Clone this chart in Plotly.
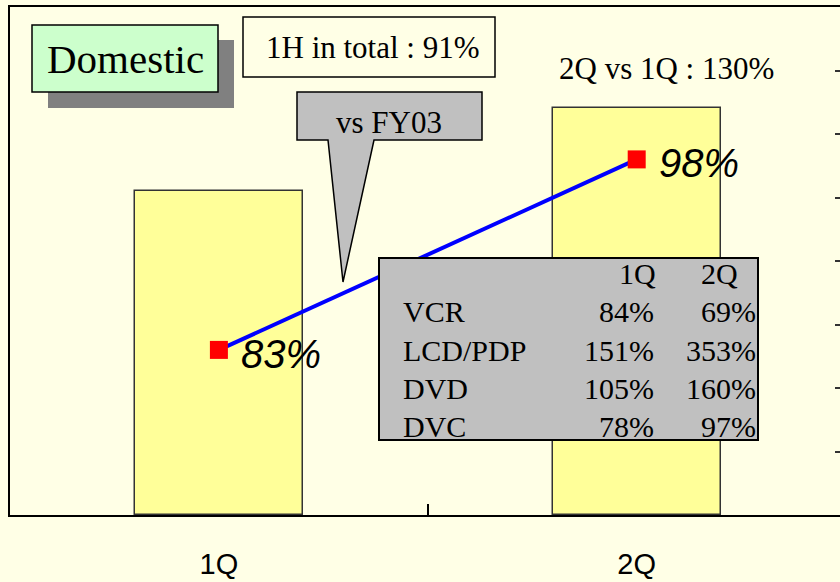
import plotly.graph_objects as go

# ---- data -------------------------------------------------------------
quarters = ["1Q", "2Q"]
sales_index = [63.8, 80.1]          # bar heights (hidden left axis, 0-100)
ratio_vs_fy03 = [83, 98]            # % vs FY03 (right axis, 70-110)

products = ["VCR", "LCD/PDP", "DVD", "DVC"]
product_q1 = ["84%", "151%", "105%", "78%"]
product_q2 = ["69%", "353%", "160%", "97%"]

title_text = "Domestic"
total_text = "1H in total : 91%"
callout_text = "vs FY03"
qoq_text = "2Q vs 1Q : 130%"

# ---- layout geometry (pixels) -------------------------------------------
W, H = 840, 582
ML, MR, MT, MB = 10, 0, 7, 67
PW, PH = W - ML - MR, H - MT - MB

BG = "#FFFFE6"
SERIF = "Liberation Serif, Times New Roman, serif"
SANS = "Liberation Sans, Arial, sans-serif"


def fx(px):
    return (px - ML) / PW


def fy(py):
    return 1 - (py - MT) / PH


fig = go.Figure()

fig.add_trace(go.Bar(
    x=quarters, y=sales_index, width=0.402,
    marker=dict(color="#FFFF99", line=dict(color="#333333", width=1.5)),
    yaxis="y", showlegend=False, hoverinfo="skip",
))

fig.add_trace(go.Scatter(
    x=quarters, y=ratio_vs_fy03, mode="lines+markers",
    line=dict(color="#0000FF", width=4),
    marker=dict(symbol="square", size=18, color="#FF0000"),
    yaxis="y2", showlegend=False, hoverinfo="skip",
))

shapes = []
annotations = []

# value labels next to the line markers
for q, v in zip(quarters, ratio_vs_fy03):
    annotations.append(dict(
        x=q, y=v, xref="x", yref="y2", text=f"{v}%", showarrow=False,
        xanchor="center", yanchor="middle", xshift=62, yshift=-4,
        font=dict(family=SANS, size=40, color="black", style="italic"),
    ))

# "Domestic" box with drop shadow
shapes.append(dict(type="rect", xref="paper", yref="paper", layer="above",
                   x0=fx(48), x1=fx(234), y0=fy(108), y1=fy(40),
                   fillcolor="#808080", line=dict(width=0)))
shapes.append(dict(type="rect", xref="paper", yref="paper", layer="above",
                   x0=fx(32), x1=fx(218), y0=fy(92), y1=fy(25),
                   fillcolor="#CCFFCC", line=dict(color="black", width=1.5)))
annotations.append(dict(x=fx(125), y=fy(59), xref="paper", yref="paper",
                        text=title_text, showarrow=False,
                        xanchor="center", yanchor="middle",
                        font=dict(family=SERIF, size=41, color="black")))

# "1H in total" box
shapes.append(dict(type="rect", xref="paper", yref="paper", layer="above",
                   x0=fx(243), x1=fx(495), y0=fy(77), y1=fy(17),
                   fillcolor=BG, line=dict(color="black", width=1.5)))
annotations.append(dict(x=fx(373), y=fy(48), xref="paper", yref="paper",
                        text=total_text, showarrow=False,
                        xanchor="center", yanchor="middle",
                        font=dict(family=SERIF, size=31, color="black")))

# "vs FY03" speech callout
pts = [(297, 92), (482, 92), (482, 140), (374, 140), (343, 282), (328, 140), (297, 140)]
path = "M " + " L ".join(f"{fx(a):.5f},{fy(b):.5f}" for a, b in pts) + " Z"
shapes.append(dict(type="path", path=path, xref="paper", yref="paper", layer="above",
                   fillcolor="#C0C0C0", line=dict(color="black", width=1.5)))
annotations.append(dict(x=fx(389), y=fy(122.5), xref="paper", yref="paper",
                        text=callout_text, showarrow=False,
                        xanchor="center", yanchor="middle",
                        font=dict(family=SERIF, size=31, color="black")))

# quarter-on-quarter note
annotations.append(dict(x=fx(666.5), y=fy(68.5), xref="paper", yref="paper",
                        text=qoq_text, showarrow=False,
                        xanchor="center", yanchor="middle",
                        font=dict(family=SERIF, size=31, color="black")))

# product breakdown table
shapes.append(dict(type="rect", xref="paper", yref="paper", layer="above",
                   x0=fx(379), x1=fx(758), y0=fy(440), y1=fy(258),
                   fillcolor="#C0C0C0", line=dict(color="black", width=2)))
tfont = dict(family=SERIF, size=30, color="black")
row0, pitch = 273.5, 38.3
for col_label, xr in zip(quarters, [658, 740]):
    annotations.append(dict(x=fx(xr), y=fy(row0), xref="paper", yref="paper",
                            text=col_label, showarrow=False,
                            xanchor="right", yanchor="middle", font=tfont))
for i, (name, a, b) in enumerate(zip(products, product_q1, product_q2)):
    yy = fy(row0 + (i + 1) * pitch)
    annotations.append(dict(x=fx(401), y=yy, xref="paper", yref="paper",
                            text=name, showarrow=False,
                            xanchor="left", yanchor="middle", font=tfont))
    annotations.append(dict(x=fx(656), y=yy, xref="paper", yref="paper",
                            text=a, showarrow=False,
                            xanchor="right", yanchor="middle", font=tfont))
    annotations.append(dict(x=fx(758), y=yy, xref="paper", yref="paper",
                            text=b, showarrow=False,
                            xanchor="right", yanchor="middle", font=tfont))

fig.update_layout(
    template="none",
    width=W, height=H,
    margin=dict(l=ML, r=MR, t=MT, b=MB, pad=0),
    paper_bgcolor=BG, plot_bgcolor=BG,
    bargap=0,
    xaxis=dict(
        type="category", range=[-0.5, -0.5 + PW / 417.8],
        showgrid=False, zeroline=False, automargin=False,
        showline=True, mirror=True, linecolor="black", linewidth=2,
        ticks="inside", tickson="boundaries", ticklen=11, tickwidth=2, tickcolor="black",
        tickfont=dict(family=SANS, size=29, color="black"),
        ticklabelstandoff=22,
    ),
    yaxis=dict(
        range=[0, 100], showticklabels=False, ticks="", showgrid=False,
        zeroline=False, automargin=False,
        showline=True, linecolor="black", linewidth=2,
    ),
    yaxis2=dict(
        overlaying="y", side="right", range=[70, 110], tick0=70, dtick=5,
        ticks="inside", ticklen=5, tickwidth=2, tickcolor="#333333",
        showticklabels=False, showgrid=False, zeroline=False,
        showline=False, automargin=False,
    ),
    shapes=shapes,
    annotations=annotations,
)

fig.write_html("out.html")
